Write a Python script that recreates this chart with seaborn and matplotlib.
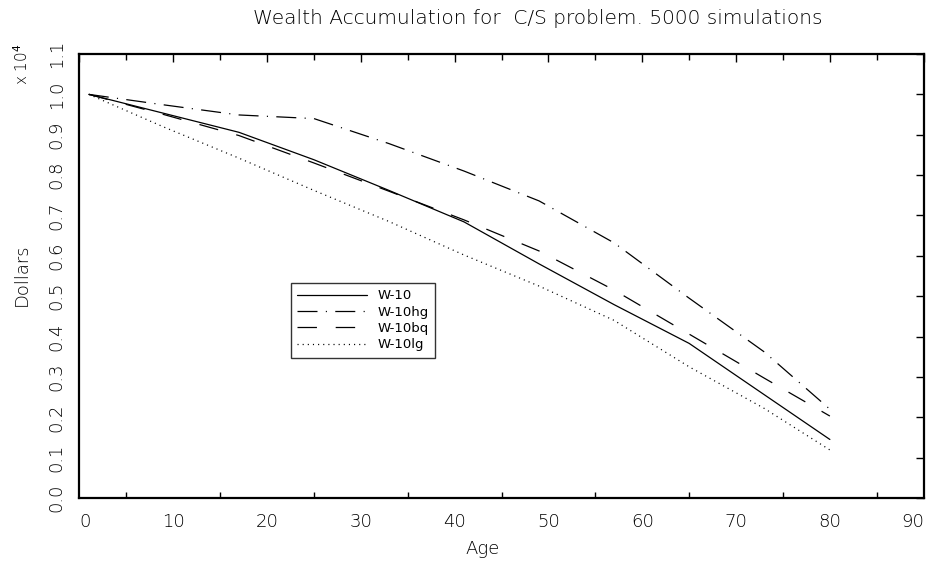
import matplotlib
matplotlib.use("Agg")
import matplotlib.pyplot as plt
import seaborn as sns
import pandas as pd
from matplotlib.ticker import MultipleLocator

ages = [1, 9, 17, 25, 33, 41, 49, 57, 65, 73, 80]
w10 = [1.0, 0.953, 0.906, 0.838, 0.762, 0.684, 0.580, 0.479, 0.383, 0.256, 0.145]
w10hg = [1.0, 0.974, 0.949, 0.940, 0.878, 0.810, 0.736, 0.632, 0.495, 0.362, 0.220]
w10bq = [1.0, 0.950, 0.898, 0.830, 0.760, 0.689, 0.612, 0.515, 0.406, 0.297, 0.203]
w10lg = [1.0, 0.919, 0.842, 0.762, 0.685, 0.602, 0.525, 0.440, 0.325, 0.222, 0.119]
series_names = ["W-10", "W-10hg", "W-10bq", "W-10lg"]
x_ticks = [0, 10, 20, 30, 40, 50, 60, 70, 80, 90]
y_ticks = [0.0, 0.1, 0.2, 0.3, 0.4, 0.5, 0.6, 0.7, 0.8, 0.9, 1.0, 1.1]

rows = []
for name, vals in zip(series_names, [w10, w10hg, w10bq, w10lg]):
    for a, v in zip(ages, vals):
        rows.append({"Age": a, "Dollars": v, "Series": name})
df = pd.DataFrame(rows)

sns.set_theme(style="white", rc={"text.color": "black", "axes.labelcolor": "black",
                                 "xtick.color": "black", "ytick.color": "black"})
plt.rcParams["font.family"] = ["DejaVu Sans"]
plt.rcParams["lines.scale_dashes"] = False

fig = plt.figure(figsize=(9.33, 5.65), dpi=100)
ax = fig.add_axes([0.0852, 0.1186, 0.9048, 0.7858])

dashes = {
    "W-10": "",
    "W-10hg": (14.4, 6.0, 0.8, 6.0),
    "W-10bq": (14.0, 13.5),
    "W-10lg": (0.8, 2.9),
}
sns.lineplot(data=df, x="Age", y="Dollars", hue="Series", style="Series",
             palette=["black"] * 4, dashes=dashes, hue_order=series_names,
             style_order=series_names, linewidth=0.9, ax=ax, legend=True)

ax.set_xlim(0, 90)
ax.set_ylim(0, 1.1)
ax.set_xticks(x_ticks)
ax.set_xticklabels([str(t) for t in x_ticks])
ax.xaxis.set_minor_locator(MultipleLocator(5))
ax.set_yticks(y_ticks)
ax.set_yticklabels([f"{t:.1f}" for t in y_ticks], rotation=90, va="center")

for s in ax.spines.values():
    s.set_color("black")
    s.set_linewidth(1.6)

ax.tick_params(axis="both", which="major", direction="in", length=6, width=1,
               colors="black", labelsize=13, top=True, right=True)
ax.tick_params(axis="x", which="major", pad=11)
ax.tick_params(axis="y", which="major", pad=10)
ax.tick_params(axis="x", which="minor", direction="in", length=4, width=1,
               top=True, bottom=True)
xlabs = ax.get_xticklabels()
xlabs[0].set_ha("left")
xlabs[-1].set_ha("right")
for lab in ax.get_xticklabels() + ax.get_yticklabels():
    lab.set_fontweight("light")
    lab.set_color("black")

ax.set_xlabel("")
ax.set_ylabel("")
fig.text(483 / 933, 1 - 549 / 565, "Age", ha="center", va="center",
         fontsize=13, fontweight="light", color="black")
fig.text(22 / 933, 1 - 275 / 565, "Dollars", ha="center", va="center",
         rotation=90, fontsize=13, fontweight="light", color="black")
fig.text(22 / 933, 1 - 64 / 565, r"x 10$^4$", ha="center", va="center",
         rotation=90, fontsize=11, fontweight="light", color="black")
fig.text(538 / 933, 1 - 18 / 565,
         "Wealth Accumulation for  C/S problem. 5000 simulations",
         ha="center", va="center", fontsize=14.5, fontweight="light", color="black")

handles, labels = ax.get_legend_handles_labels()
leg = ax.legend(handles, labels, loc="upper left", bbox_to_anchor=(0.25, 0.485),
                borderaxespad=0, frameon=True, fancybox=False, fontsize=9.5,
                handlelength=5.3, labelspacing=0.25, borderpad=0.5,
                handletextpad=0.8)
leg.get_frame().set_edgecolor("black")
leg.get_frame().set_linewidth(1.0)
for t in leg.get_texts():
    t.set_color("black")

fig.savefig("out.png", dpi=100, facecolor="white")
